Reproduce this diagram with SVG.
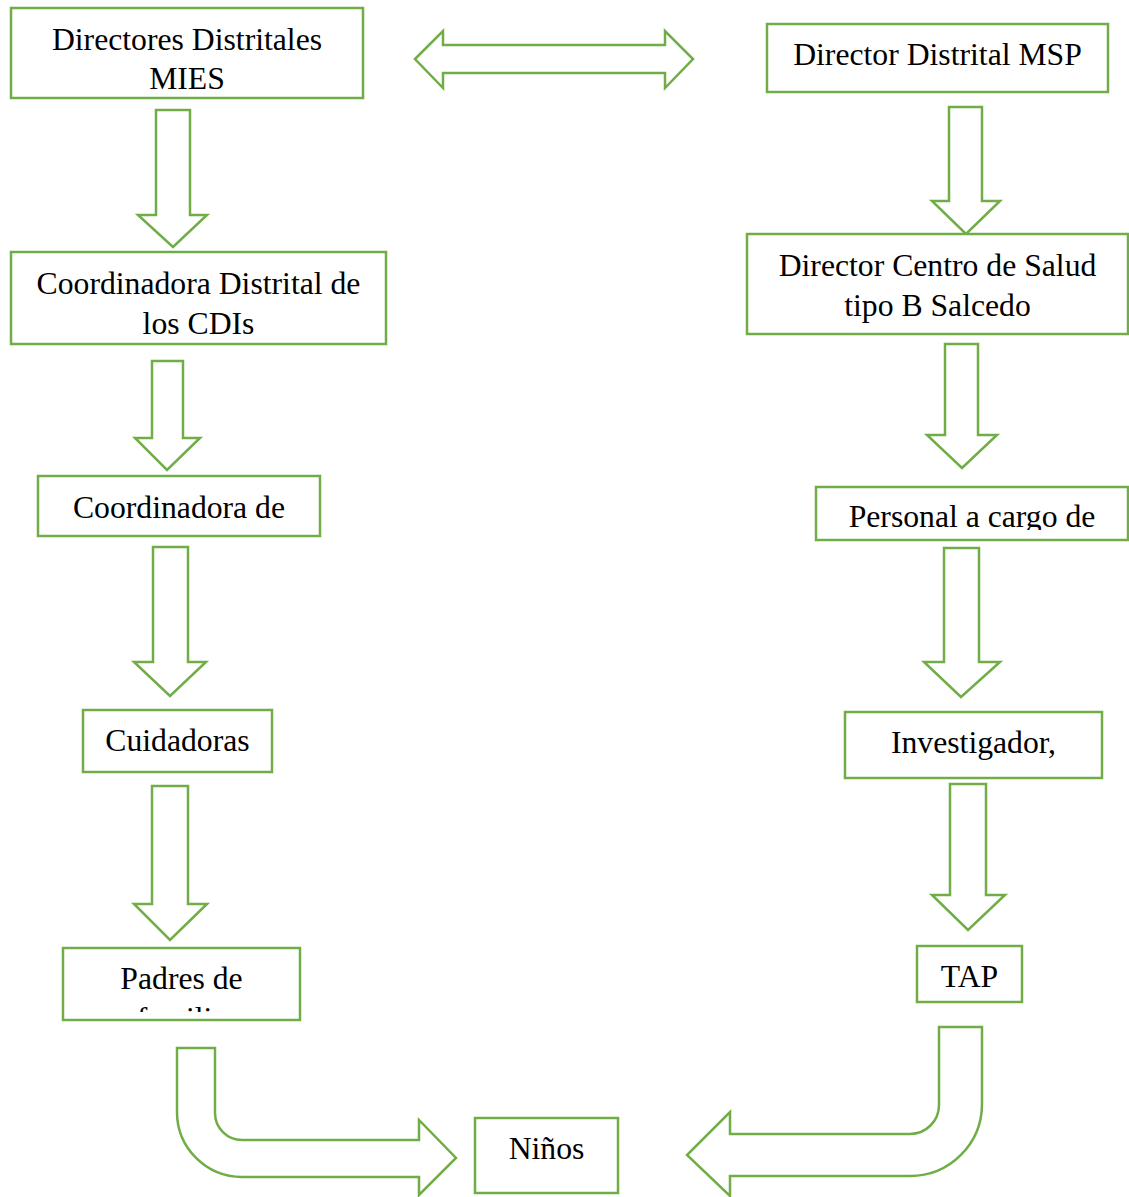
<svg xmlns="http://www.w3.org/2000/svg" width="1129" height="1197" viewBox="0 0 1129 1197">
<style>
.box{fill:#fff;stroke:#70AD47;stroke-width:2.5}
.arr{fill:#fff;stroke:#70AD47;stroke-width:2.5;stroke-linejoin:miter}
.t{font-family:"Liberation Serif","Times New Roman",serif;font-size:31.7px;fill:#000;text-anchor:middle}
</style>
<defs>
<clipPath id="c1"><rect x="11" y="8" width="352" height="81"/></clipPath>
<clipPath id="c3"><rect x="38" y="476" width="282" height="58"/></clipPath>
<clipPath id="c5"><rect x="63" y="948" width="237" height="64"/></clipPath>
<clipPath id="c8"><rect x="816" y="487" width="312" height="43"/></clipPath>
</defs>
<rect width="1129" height="1197" fill="#fff"/>
<g id="connectors">
<path class="arr" d="M415,59 L443,31 V45 H665 V31 L693,59 L665,88 V73 H443 V88 Z"/>
<path class="arr" d="M156,110 H190 V215 H207 L173,247 L138,215 H156 Z"/>
<path class="arr" d="M152,361 H183 V438 H200 L167,470 L135,438 H152 Z"/>
<path class="arr" d="M153,547 H188 V662 H206 L170,696 L134,662 H153 Z"/>
<path class="arr" d="M152,786 H188 V904 H207 L170,940 L134,904 H152 Z"/>
<path class="arr" d="M949,107 H982 V201 H1000 L966,234 L932,201 H949 Z"/>
<path class="arr" d="M945,344 H978 V435 H997 L962,468 L927,435 H945 Z"/>
<path class="arr" d="M944,548 H979 V662 H1000 L961,697 L924,662 H944 Z"/>
<path class="arr" d="M950,784 H986 V895 H1005 L968,930 L932,895 H950 Z"/>
<path class="arr" d="M177,1048 H215 V1113 A27,27 0 0 0 242,1140 H419 V1120 L456,1158 L419,1195 V1177 H242 A65,65 0 0 1 177,1112 Z"/>
<path class="arr" d="M982,1027 H939 V1105 A29,29 0 0 1 910,1134 H730 V1112 L687,1155 L730,1196 V1176 H910 A72,72 0 0 0 982,1104 Z"/>
</g>
<g id="n1"><rect class="box" x="11" y="8" width="352" height="90"/>
<g clip-path="url(#c1)"><text class="t" x="187" y="50">Directores Distritales</text><text class="t" x="187" y="89">MIES</text></g></g>
<g id="n2"><rect class="box" x="11" y="252" width="375" height="92"/>
<text class="t" x="198.5" y="294">Coordinadora Distrital de</text><text class="t" x="198.5" y="334">los CDIs</text></g>
<g id="n3"><rect class="box" x="38" y="476" width="282" height="60"/>
<g clip-path="url(#c3)"><text class="t" x="179" y="518">Coordinadora de</text></g></g>
<g id="n4"><rect class="box" x="83" y="710" width="189" height="62"/>
<text class="t" x="177.5" y="751">Cuidadoras</text></g>
<g id="n5"><rect class="box" x="63" y="948" width="237" height="72"/>
<g clip-path="url(#c5)"><text class="t" x="181.5" y="989">Padres de</text><text class="t" x="181.5" y="1029">familia</text></g></g>
<g id="n6"><rect class="box" x="767" y="24" width="341" height="68"/>
<text class="t" x="937.5" y="65">Director Distrital MSP</text></g>
<g id="n7"><rect class="box" x="747" y="234" width="381" height="100"/>
<text class="t" x="937.5" y="276">Director Centro de Salud</text><text class="t" x="937.5" y="316">tipo B Salcedo</text></g>
<g id="n8"><rect class="box" x="816" y="487" width="312" height="53"/>
<g clip-path="url(#c8)"><text class="t" x="972" y="527">Personal a cargo de</text></g></g>
<g id="n9"><rect class="box" x="845" y="712" width="257" height="66"/>
<text class="t" x="973.5" y="753">Investigador,</text></g>
<g id="n10"><rect class="box" x="917" y="946" width="105" height="56"/>
<text class="t" x="969.5" y="987">TAP</text></g>
<g id="n11"><rect class="box" x="475" y="1118" width="143" height="75"/>
<text class="t" x="546.5" y="1159">Niños</text></g>
</svg>
